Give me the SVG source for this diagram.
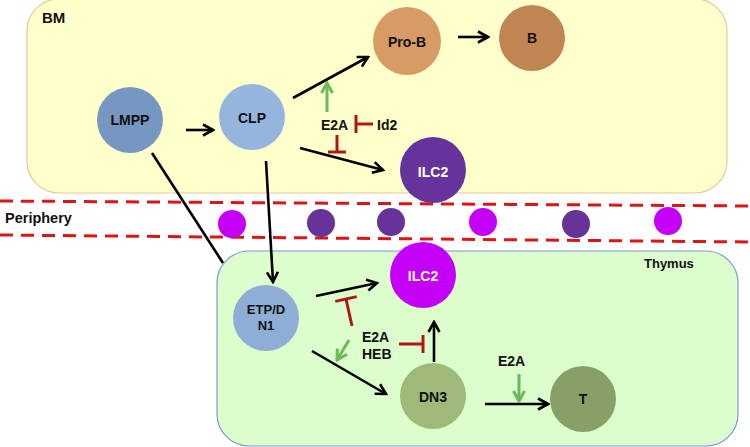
<svg xmlns="http://www.w3.org/2000/svg" width="750" height="447" viewBox="0 0 750 447">
<defs>
<style>
.lbl{font-family:"Liberation Sans",Arial,sans-serif;font-weight:bold;font-size:14px;fill:#111;text-anchor:middle}
.wl{fill:#fff}
.side{font-family:"Liberation Sans",Arial,sans-serif;font-weight:bold;font-size:14px;fill:#111}
.blk{stroke:#000;stroke-width:2.6;fill:none}
.grn{stroke:#6cb85c;stroke-width:3;fill:none}
.red{stroke:#b01818;stroke-width:3;fill:none}
.dash{stroke:#dd1515;stroke-width:3;stroke-dasharray:13,8;fill:none}
</style>
<marker id="ah" viewBox="0 0 14 14" refX="12" refY="7" markerWidth="14" markerHeight="14" markerUnits="userSpaceOnUse" orient="auto">
<path d="M2,1.5 L12,7 L2,12.5" fill="none" stroke="#000" stroke-width="2.6"/>
</marker>
<marker id="gh" viewBox="0 0 14 14" refX="12" refY="7" markerWidth="14" markerHeight="14" markerUnits="userSpaceOnUse" orient="auto">
<path d="M2,1.5 L12,7 L2,12.5" fill="none" stroke="#6cb85c" stroke-width="3"/>
</marker>
<marker id="tee" viewBox="0 0 4 20" refX="2" refY="10" markerWidth="4" markerHeight="20" markerUnits="userSpaceOnUse" orient="auto">
<line x1="2" y1="1" x2="2" y2="19" stroke="#b01818" stroke-width="3"/>
</marker>
<marker id="teeL" viewBox="0 0 4 24" refX="2" refY="12" markerWidth="4" markerHeight="24" markerUnits="userSpaceOnUse" orient="auto">
<line x1="2" y1="1" x2="2" y2="23" stroke="#b01818" stroke-width="3"/>
</marker>
</defs>

<g id="compartments">
<rect id="bm-box" x="27" y="-1" width="700" height="194" rx="32" fill="#ffffcc" stroke="#e2c99a" stroke-width="1.2"/>
<text class="side" x="42" y="23" style="font-size:15px">BM</text>
<rect id="thymus-box" x="217" y="251" width="521" height="195" rx="32" fill="#dcfdcc" stroke="#7d98d8" stroke-width="1.2"/>
<text class="side" x="644" y="268" style="font-size:13px">Thymus</text>
<line class="dash" x1="0" y1="201" x2="750" y2="206"/>
<line class="dash" x1="0" y1="235" x2="750" y2="242"/>
<text class="side" x="5" y="223" style="font-size:14.5px">Periphery</text>
</g>

<g id="periphery-cells">
<circle cx="232" cy="224" r="14" fill="#c400f6"/>
<circle cx="321" cy="223" r="14" fill="#663399"/>
<circle cx="391" cy="222" r="14" fill="#663399"/>
<circle cx="483" cy="222" r="14" fill="#c400f6"/>
<circle cx="576" cy="224" r="14" fill="#663399"/>
<circle cx="668" cy="221" r="14" fill="#c400f6"/>
</g>

<g id="connectors">
<line class="blk" x1="186" y1="130" x2="213" y2="130" marker-end="url(#ah)"/>
<line class="blk" x1="293" y1="98" x2="368" y2="57" marker-end="url(#ah)"/>
<line class="blk" x1="300" y1="148" x2="383" y2="170" marker-end="url(#ah)"/>
<line class="blk" x1="458" y1="37" x2="488" y2="37" marker-end="url(#ah)"/>
<line class="blk" x1="152" y1="153" x2="223" y2="263"/>
<line class="blk" x1="266" y1="161" x2="273" y2="282" marker-end="url(#ah)"/>
<line class="blk" x1="316" y1="296" x2="377" y2="283" marker-end="url(#ah)"/>
<line class="blk" x1="312" y1="351" x2="386" y2="394" marker-end="url(#ah)"/>
<line class="blk" x1="434" y1="362" x2="434" y2="322" marker-end="url(#ah)"/>
<line class="blk" x1="485" y1="404" x2="548" y2="404" marker-end="url(#ah)"/>
<line class="grn" x1="327" y1="112" x2="327" y2="83" marker-end="url(#gh)"/>
<line class="grn" x1="349" y1="340" x2="337" y2="360" marker-end="url(#gh)"/>
<line class="grn" x1="519" y1="374" x2="519" y2="401" marker-end="url(#gh)"/>
<line class="red" x1="373" y1="124" x2="356" y2="124" marker-end="url(#tee)"/>
<line class="red" x1="337" y1="135" x2="337" y2="152" marker-end="url(#tee)"/>
<line class="red" x1="352" y1="326" x2="346" y2="299" marker-end="url(#teeL)"/>
<line class="red" x1="399" y1="344" x2="423" y2="344" marker-end="url(#tee)"/>
</g>

<g id="factor-labels">
<text class="side" x="321" y="130">E2A</text>
<text class="side" x="377" y="130">Id2</text>
<text class="side" x="362" y="342">E2A</text>
<text class="side" x="362" y="359">HEB</text>
<text class="side" x="498" y="366">E2A</text>
</g>

<g id="LMPP"><circle cx="130" cy="120" r="33" fill="#7597c1"/><text class="lbl" x="130" y="125">LMPP</text></g>
<g id="CLP"><circle cx="252" cy="117" r="33" fill="#95b5dc"/><text class="lbl" x="252" y="123">CLP</text></g>
<g id="ProB"><circle cx="407" cy="41" r="34" fill="#d99b66"/><text class="lbl" x="407" y="47">Pro-B</text></g>
<g id="B"><circle cx="532" cy="38" r="33" fill="#c08552"/><text class="lbl" x="532" y="43">B</text></g>
<g id="ILC2-BM"><circle cx="433" cy="170" r="33" fill="#65339b"/><text class="lbl wl" x="433" y="177">ILC2</text></g>
<g id="ILC2-thymus"><circle cx="423" cy="275" r="33" fill="#c400f6"/><text class="lbl wl" x="423" y="281">ILC2</text></g>
<g id="ETP-DN1"><circle cx="266" cy="318" r="33" fill="#8faed6"/><text class="lbl" x="266" y="314" style="font-size:13px">ETP/D</text><text class="lbl" x="266" y="330" style="font-size:13px">N1</text></g>
<g id="DN3"><circle cx="433" cy="396" r="33" fill="#9fba78"/><text class="lbl" x="433" y="402">DN3</text></g>
<g id="T"><circle cx="583" cy="399" r="33" fill="#889f68"/><text class="lbl" x="583" y="404">T</text></g>
</svg>
